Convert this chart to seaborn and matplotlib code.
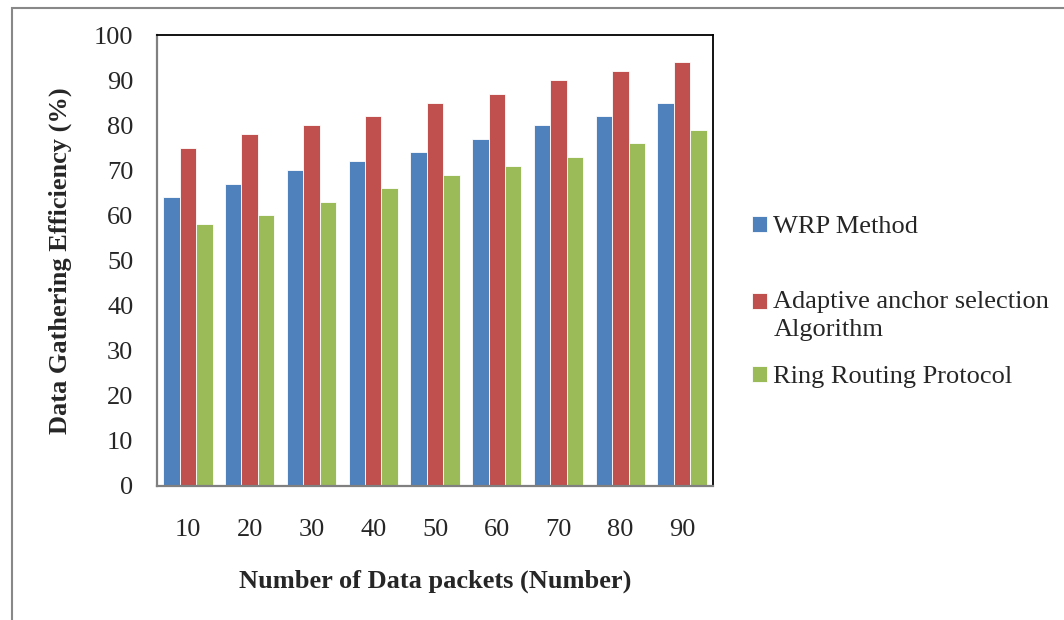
import numpy as np
import pandas as pd
import matplotlib
matplotlib.use("Agg")
import matplotlib.pyplot as plt
from matplotlib.patches import Rectangle
import seaborn as sns

packets = [10, 20, 30, 40, 50, 60, 70, 80, 90]
wrp = [64, 67, 70, 72, 74, 77, 80, 82, 85]
adaptive = [75, 78, 80, 82, 85, 87, 90, 92, 94]
ring = [58, 60, 63, 66, 69, 71, 73, 76, 79]
# leading blank line keeps the legend square level with the first text line
series_names = ["WRP Method", "\nAdaptive anchor selection\nAlgorithm", "Ring Routing Protocol"]
colors = ["#4F81BD", "#C0504D", "#9BBB59"]

df = pd.DataFrame({"packets": packets * 3,
                   "value": wrp + adaptive + ring,
                   "method": np.repeat(series_names, len(packets))})

sns.set_style("white")
plt.rcParams["font.family"] = ["Liberation Serif", "DejaVu Serif"]

fig = plt.figure(figsize=(10.64, 6.2), dpi=100)
ax = fig.add_axes([157 / 1064, 1 - 486 / 620, (713 - 157) / 1064, (486 - 35) / 620])

sns.barplot(data=df, x="packets", y="value", hue="method", palette=colors,
            width=0.8, ax=ax, edgecolor="white", linewidth=0.6, saturation=1)

ax.set_ylim(0, 100)
ax.set_yticks(range(0, 101, 10))
ax.tick_params(axis="both", length=0, labelsize=19)
ax.tick_params(axis="y", pad=17)
ax.tick_params(axis="x", pad=24)
ax.set_xlabel("Number of Data packets (Number)", fontsize=19, fontweight="bold", labelpad=20)
ax.set_ylabel("Data Gathering Efficiency (%)", fontsize=19, fontweight="bold", labelpad=16)

for side in ["top", "right"]:
    ax.spines[side].set_color("black")
    ax.spines[side].set_linewidth(1.3)
for side in ["left", "bottom"]:
    ax.spines[side].set_color("#808080")
    ax.spines[side].set_linewidth(1.6)

leg = ax.legend(loc="center left", bbox_to_anchor=(1.028, 0.408), frameon=False,
                fontsize=19, handlelength=0.55, handleheight=0.55,
                handletextpad=0.25, labelspacing=0.95)
for t in leg.get_texts():
    t.set_linespacing(1.34)

# outer chart-area border
fig.patches.append(Rectangle((12 / 1064, -0.1), 1.2, 1 - 8 / 620 + 0.1,
                             transform=fig.transFigure, fill=False,
                             edgecolor="#888888", linewidth=1.5))

fig.savefig("out.png", dpi=100)
